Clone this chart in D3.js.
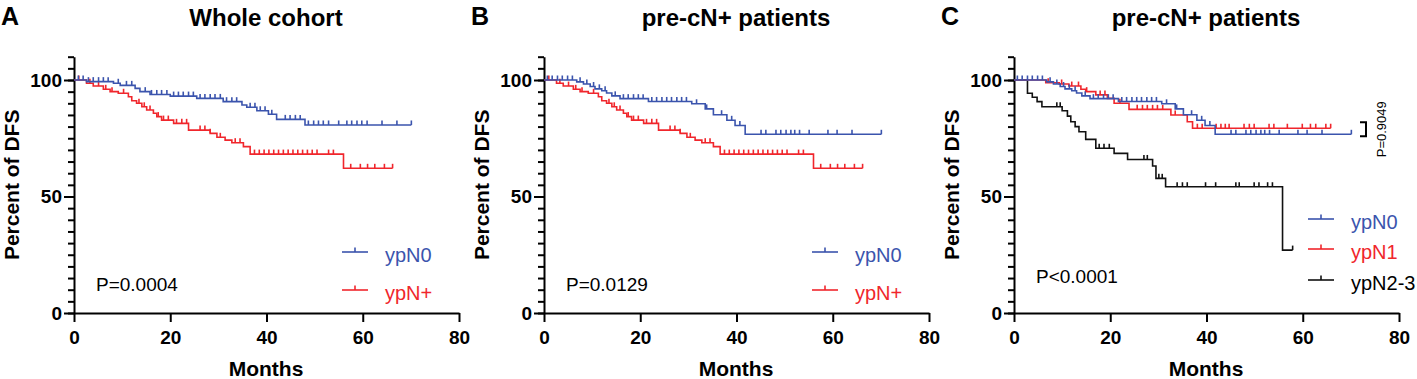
<!DOCTYPE html>
<html>
<head>
<meta charset="utf-8">
<script src="https://cdn.jsdelivr.net/npm/d3@7"></script>
<style>
  body { margin: 0; background: #fff; }
  text { font-family: "Liberation Sans", Arial, sans-serif; }
</style>
</head>
<body>
<svg id="chart" width="1417" height="379"></svg>
<script>
// axis ticks
const monthTicks = [0, 20, 40, 60, 80];
const pctTicks = [0, 50, 100];
const pctMinor = d3.range(0, 111, 5);

// Panel A - whole cohort
const aN0Time = [0, 2.6, 8.2, 9.6, 12.7, 13.7, 15.8, 20, 25.5, 31, 34.9, 35.9, 38, 40.4, 42.1, 48, 70.1];
const aN0Surv = [100, 99.3, 98.6, 97.7, 96.4, 95, 93.8, 93.1, 92.1, 90.7, 89.3, 88.3, 86.8, 85.3, 83.1, 80.7, 80.7];
const aN0Cens = [0.9, 1.9, 3, 4, 5.1, 6.1, 7.1, 9.2, 10.9, 12, 14.8, 16.1, 17.2, 18.2, 19.3, 20.7, 21.7, 22.7, 23.8, 24.8,
  26.2, 27.2, 28.3, 29.3, 30.4, 31.7, 32.8, 33.8, 36.6, 37.6, 38.7, 39.7, 41.1, 43.9, 44.9, 46, 47, 48.7, 49.8, 50.8,
  51.8, 52.9, 55, 56.7, 57.7, 58.8, 59.8, 60.9, 64, 67.1, 70.1];

const aNpTime = [0, 2.6, 4, 6.1, 7.5, 9.2, 11.3, 12, 13, 14.1, 15.1, 16.5, 17.2, 18.2, 20.7, 23.8, 28.3, 29.7, 31.4, 32.8, 35.2, 36.6, 56, 66.2];
const aNpSurv = [100, 98.6, 97.4, 96, 95, 94.3, 92.8, 91.1, 90, 88.5, 87.1, 85.7, 84.3, 82.8, 81.4, 78.5, 77.1, 75.4, 74.2, 73.1, 71.4, 68.2, 62.1, 62.1];
const aNpCens = [1, 3.3, 5.1, 6.6, 7.9, 10.3, 13.5, 14.6, 15.8, 17.5, 18.6, 19.6, 21.3, 22.4, 23.4, 26.2, 27.2, 28.3, 30.4, 33.5,
  34.5, 37.5, 38.5, 39.5, 40.5, 41.5, 42.5, 43.5, 44.5, 45.5, 46.5, 47.5, 48.5, 49.5, 50.5, 52.9, 53.9, 57.5, 59.5, 61,
  62.5, 64.5, 66.2];

// Panel B - pre-cN+ patients
const bN0Time = [0, 6.8, 8.2, 9.6, 10.6, 12, 13, 14.1, 15.8, 21.7, 30.7, 33.5, 35.2, 38, 39.7, 41.8, 70.1];
const bN0Surv = [100, 99.2, 98.3, 97.2, 96.2, 95.4, 94.4, 93.2, 92, 90.8, 89.8, 87.6, 85.1, 82.7, 80.5, 76.7, 76.7];
const bN0Cens = [0.7, 1.7, 2.8, 3.8, 4.9, 5.9, 7.5, 8.9, 10.3, 11.5, 12.7, 14.8, 16.5, 17.5, 18.6, 19.6, 20.6, 22.4, 23.4, 24.5,
  25.5, 26.5, 27.6, 28.6, 29.6, 31.7, 33.8, 36.9, 39, 40.7, 45.1, 46.1, 48.2, 49.2, 50.3, 51.3, 52.1, 53.1, 55.1, 59,
  60.9, 64, 70.1];

const bNpTime = [0, 2.6, 4, 6.1, 7.5, 9.2, 11.3, 12, 13, 14.1, 15.1, 16.5, 17.2, 18.2, 20.7, 23.8, 28.3, 29.7, 31.4, 32.8, 35.2, 36.6, 56, 66.2];
const bNpSurv = [100, 98.6, 97.4, 96, 95, 94.3, 92.8, 91.1, 90, 88.5, 87.1, 85.7, 84.3, 82.8, 81.4, 78.5, 77.1, 75.4, 74.2, 73.1, 71.4, 68.2, 62.1, 62.1];
const bNpCens = [1, 3.3, 5.1, 6.6, 7.9, 10.3, 13.5, 14.6, 15.8, 17.5, 18.6, 19.6, 21.3, 22.4, 23.4, 26.2, 27.2, 28.3, 30.4, 33.5,
  34.5, 37.5, 38.5, 39.5, 40.5, 41.5, 42.5, 43.5, 44.5, 45.5, 46.5, 47.5, 48.5, 49.5, 50.5, 52.9, 53.9, 57.5, 59.5, 61,
  62.5, 64.5, 66.2];

// Panel C - pre-cN+ patients by ypN stage (ypN0 is the same group as panel B)
const cN1Time = [0, 6.6, 9.4, 11.4, 13.9, 14.9, 17, 19.4, 20.8, 23.9, 32.6, 36, 37.1, 65.8];
const cN1Surv = [100, 98.8, 98.3, 97.4, 96, 95, 93.6, 92.1, 90, 87.4, 85, 82.1, 79.3, 79.3];
const cN1Cens = [7.1, 9.9, 12, 13.4, 15.1, 17.9, 18.9, 22, 25.6, 26.7, 27.7, 28.8, 29.8, 30.9, 33.5, 38.1, 39.1, 42, 43, 43.9,
  44.7, 47.8, 48.9, 49.9, 53, 54, 56.8, 59.9, 61.6, 62.7, 64.8, 65.8];

const cN23Time = [0, 2.8, 3.8, 4.8, 5.8, 10, 11.1, 11.8, 12.7, 13.5, 14.9, 17, 20.8, 23.6, 28.8, 29.5, 31.5, 55.8, 57.9];
const cN23Surv = [100, 94.3, 92.6, 90.7, 88.5, 86.8, 84.5, 82.1, 80, 77.8, 74.5, 70.7, 68.5, 65.9, 63.1, 57.8, 54.2, 27, 27];
const cN23Cens = [8.9, 9.6, 17.7, 18.7, 19.8, 27, 27.7, 30.1, 30.8, 33.9, 35, 36, 39.8, 41.9, 46.1, 46.8, 49.9, 50.9, 52.7, 53.7, 57.9];

const BLUE = "#3b54ad";
const RED = "#f0262c";
const BLACK = "#111";

const svg = d3.select("#chart");
svg.append("rect").attr("width", 1417).attr("height", 379).attr("fill", "#fff");

function survAt(times, survs, t) {
  let s = survs[0];
  for (let i = 0; i < times.length; i++) {
    if (times[i] <= t) s = survs[i];
  }
  return s;
}

function drawPanel(p) {
  const x = d3.scaleLinear().domain([0, 80]).range([p.x0, p.x0 + 385]);
  const y = d3.scaleLinear().domain([0, 110]).range([313, 313 - 110 * 2.33]);
  const g = svg.append("g");

  // panel letter and title
  g.append("text").attr("x", p.x0 - 73).attr("y", 25)
    .attr("font-size", 25).attr("font-weight", "bold").text(p.letter);
  g.append("text").attr("x", p.x0 + 192).attr("y", 26).attr("text-anchor", "middle")
    .attr("font-size", 24).attr("font-weight", "bold").text(p.title);

  // minor y ticks
  g.append("g").attr("transform", `translate(${p.x0},0)`)
    .call(d3.axisLeft(y).tickValues(pctMinor).tickSize(6).tickFormat(""))
    .call(a => a.select(".domain").remove())
    .call(a => a.selectAll("line").attr("stroke-width", 2));

  // major y ticks
  g.append("g").attr("transform", `translate(${p.x0},0)`)
    .call(d3.axisLeft(y).tickValues(pctTicks).tickSize(10).tickSizeOuter(0).tickPadding(2))
    .call(a => a.select(".domain").attr("stroke-width", 2))
    .call(a => a.selectAll("line").attr("stroke-width", 2))
    .call(a => a.selectAll("text").attr("font-size", 19).attr("font-weight", "bold")
      .attr("font-family", "Liberation Sans, Arial, sans-serif").attr("fill", "#000"));

  // x axis
  g.append("g").attr("transform", "translate(0,313)")
    .call(d3.axisBottom(x).tickValues(monthTicks).tickSize(9).tickSizeOuter(0).tickPadding(9))
    .call(a => a.select(".domain").attr("stroke-width", 2))
    .call(a => a.selectAll("line").attr("stroke-width", 2))
    .call(a => a.selectAll("text").attr("font-size", 19).attr("font-weight", "bold")
      .attr("font-family", "Liberation Sans, Arial, sans-serif").attr("fill", "#000"));

  // axis titles
  g.append("text").attr("x", p.x0 + 192).attr("y", 376).attr("text-anchor", "middle")
    .attr("font-size", 21).attr("font-weight", "bold").text("Months");
  g.append("text")
    .attr("transform", `translate(${p.x0 - 55},${y(55)}) rotate(-90)`)
    .attr("text-anchor", "middle").attr("font-size", 21).attr("font-weight", "bold")
    .text("Percent of DFS");

  // curves
  const line = d3.line().x(d => x(d[0])).y(d => y(d[1])).curve(d3.curveStepAfter);
  p.series.forEach(s => {
    const pts = s.time.map((t, i) => [t, s.surv[i]]);
    g.append("path").attr("d", line(pts)).attr("fill", "none")
      .attr("stroke", s.color).attr("stroke-width", 1.6);
    g.append("g").selectAll("line").data(s.cens).join("line")
      .attr("x1", d => x(d)).attr("x2", d => x(d))
      .attr("y1", d => y(survAt(s.time, s.surv, d)))
      .attr("y2", d => y(survAt(s.time, s.surv, d)) - 4.5)
      .attr("stroke", s.color).attr("stroke-width", 1.6);
  });

  // legend
  p.series.slice().reverse().forEach((s, i) => {
    const ly = p.legY[i];
    g.append("line").attr("x1", p.x0 + p.legX).attr("x2", p.x0 + p.legX + 26)
      .attr("y1", ly).attr("y2", ly).attr("stroke", s.color).attr("stroke-width", 1.6);
    g.append("line").attr("x1", p.x0 + p.legX + 13).attr("x2", p.x0 + p.legX + 13)
      .attr("y1", ly).attr("y2", ly - 4.5).attr("stroke", s.color).attr("stroke-width", 1.6);
    g.append("text").attr("x", p.x0 + p.legX + 43).attr("y", ly + 10)
      .attr("font-size", 20).attr("fill", s.color === BLACK ? "#000" : s.color).text(s.name);
  });

  // p value
  g.append("text").attr("x", p.x0 + 22).attr("y", p.pY)
    .attr("font-size", 19).text(p.pText);

  return { x, y, g };
}

drawPanel({
  x0: 74, letter: "A", title: "Whole cohort", pText: "P=0.0004", pY: 291,
  legX: 268, legY: [252, 290],
  series: [
    { name: "ypN+", color: RED, time: aNpTime, surv: aNpSurv, cens: aNpCens },
    { name: "ypN0", color: BLUE, time: aN0Time, surv: aN0Surv, cens: aN0Cens }
  ]
});

drawPanel({
  x0: 544, letter: "B", title: "pre-cN+ patients", pText: "P=0.0129", pY: 291,
  legX: 268, legY: [252, 290],
  series: [
    { name: "ypN+", color: RED, time: bNpTime, surv: bNpSurv, cens: bNpCens },
    { name: "ypN0", color: BLUE, time: bN0Time, surv: bN0Surv, cens: bN0Cens }
  ]
});

const pc = drawPanel({
  x0: 1014, letter: "C", title: "pre-cN+ patients", pText: "P<0.0001", pY: 283,
  legX: 294, legY: [219, 249, 280],
  series: [
    { name: "ypN2-3", color: BLACK, time: cN23Time, surv: cN23Surv, cens: cN23Cens },
    { name: "ypN1", color: RED, time: cN1Time, surv: cN1Surv, cens: cN1Cens },
    { name: "ypN0", color: BLUE, time: bN0Time, surv: bN0Surv, cens: bN0Cens }
  ]
});

// bracket comparing ypN0 vs ypN1 in panel C
const bTop = pc.y(cN1Surv[cN1Surv.length - 1]) - 6;
const bBot = pc.y(bN0Surv[bN0Surv.length - 1]) + 2;
pc.g.append("path")
  .attr("d", `M1360,${bTop}H1366V${bBot}H1360`)
  .attr("fill", "none").attr("stroke", "#000").attr("stroke-width", 2);
pc.g.append("text")
  .attr("transform", `translate(1386,${(bTop + bBot) / 2}) rotate(-90)`)
  .attr("text-anchor", "middle").attr("font-size", 13).text("P=0.9049");
</script>
</body>
</html>
